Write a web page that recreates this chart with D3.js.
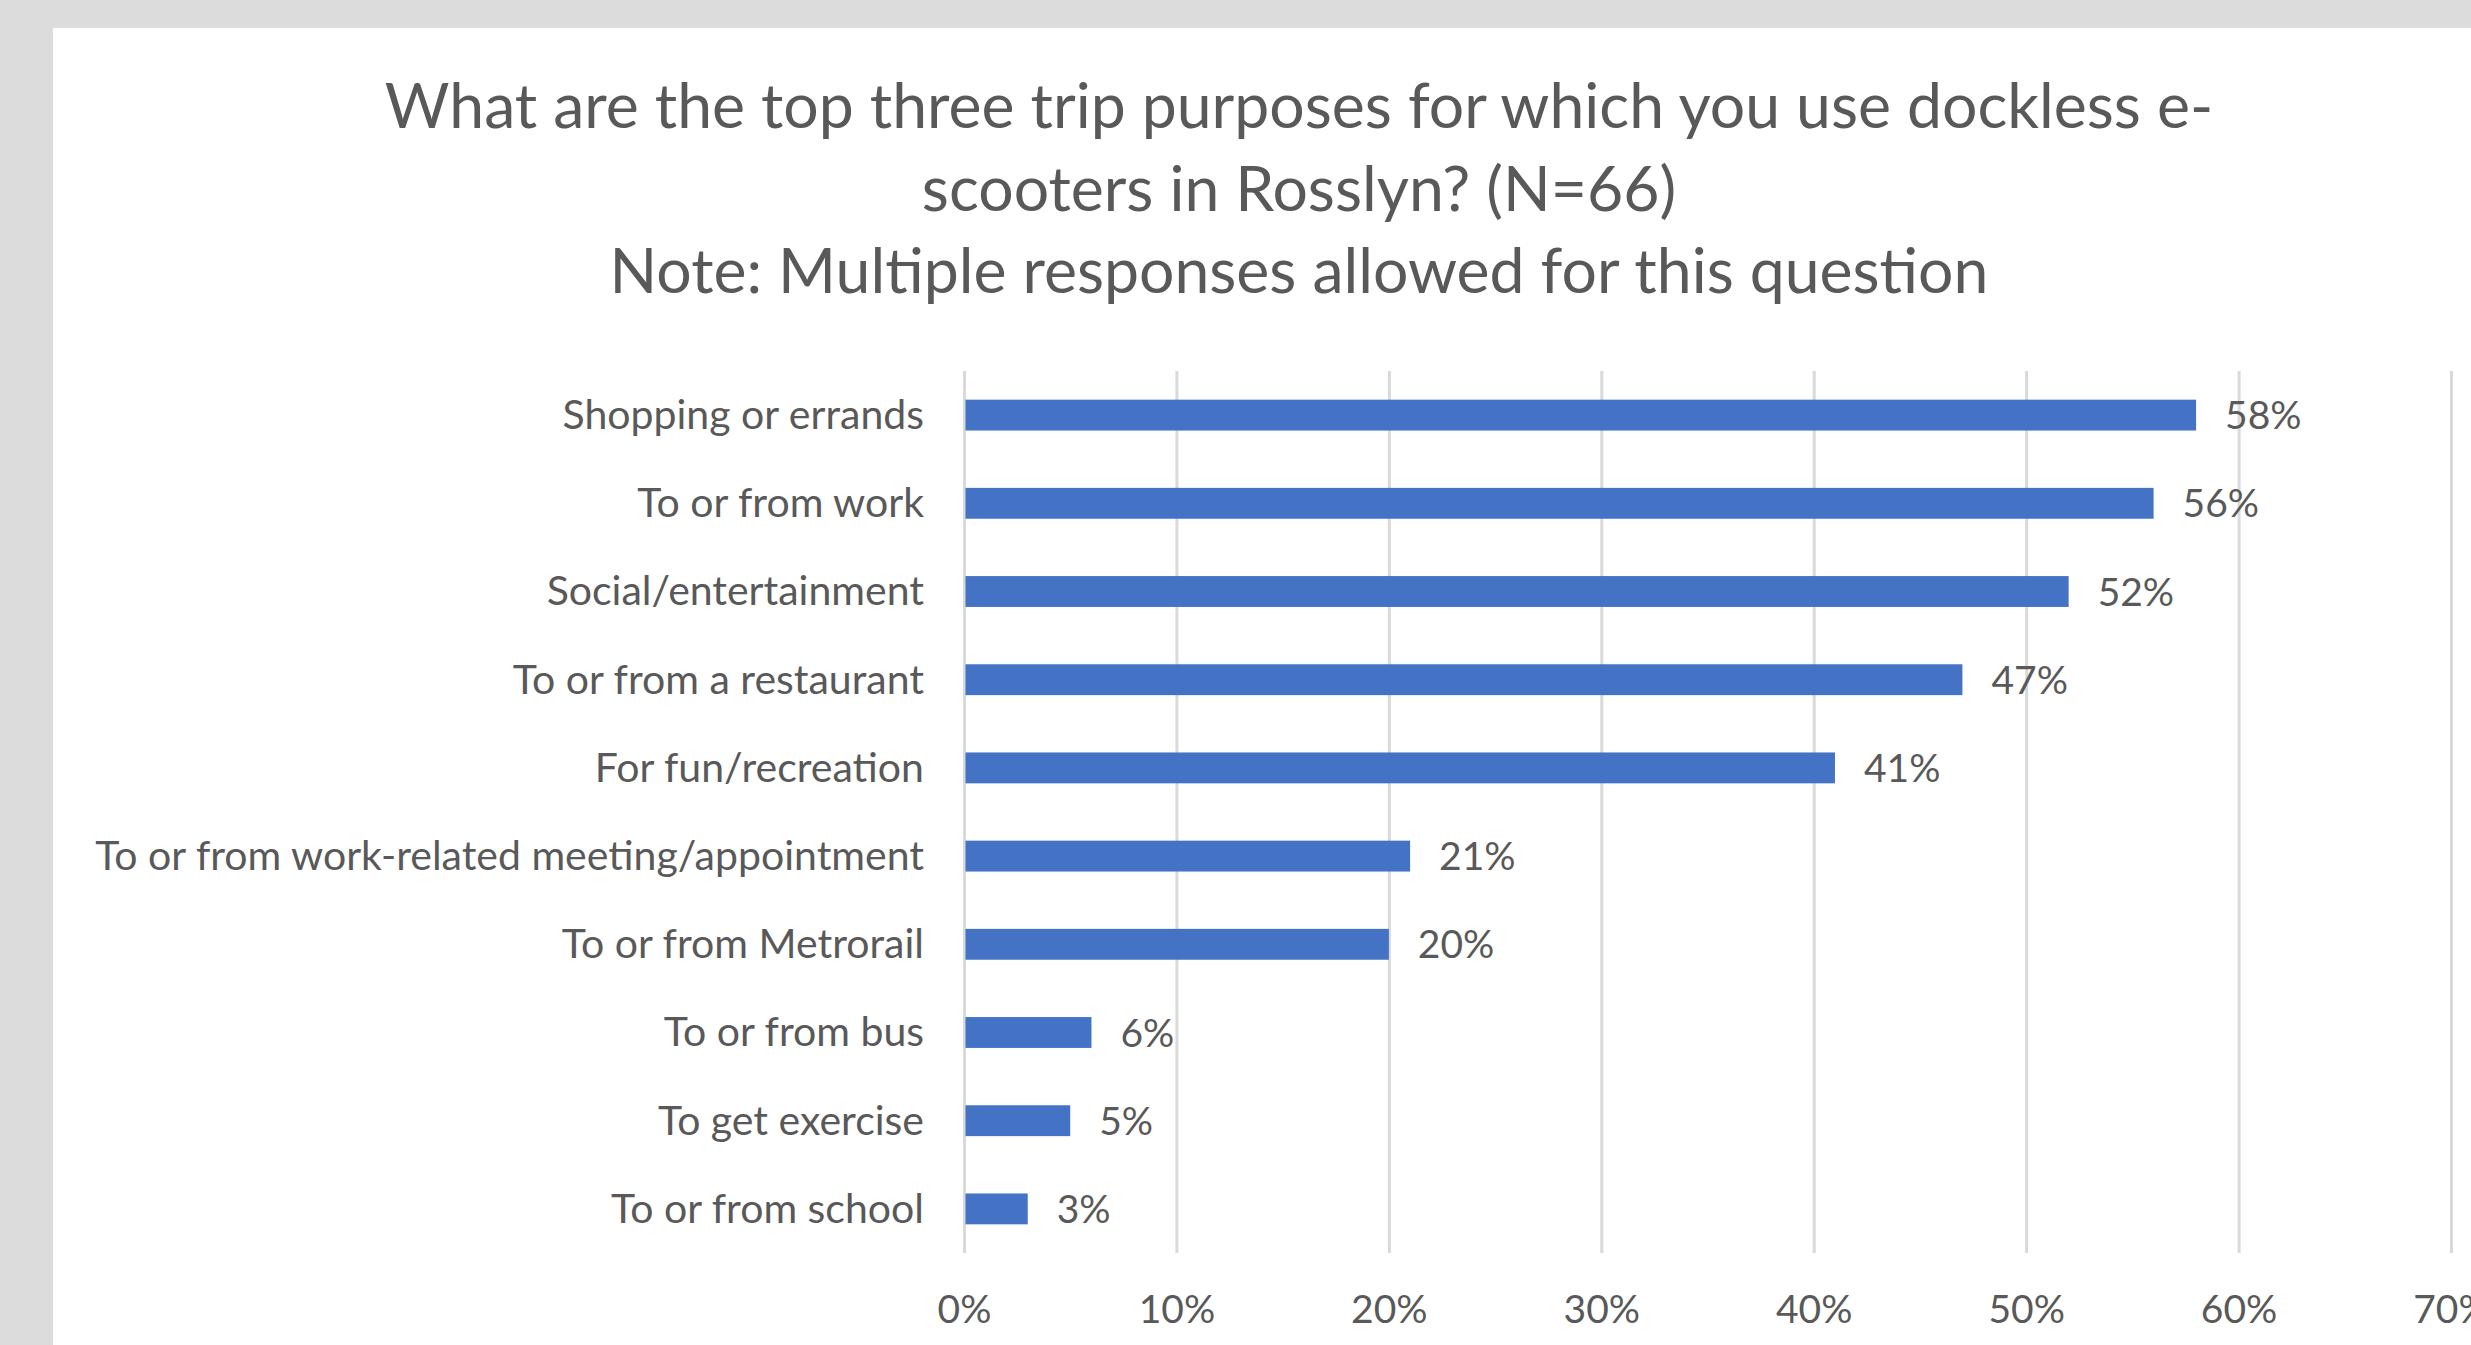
<!DOCTYPE html>
<html>
<head>
<meta charset="utf-8">
<script src="https://cdn.jsdelivr.net/npm/d3@7"></script>
<style>
  html, body { margin: 0; padding: 0; background: #dcdcdc; }
  svg { display: block; }
  text { font-family: Lato, "Open Sans", sans-serif; fill: #595959; }
</style>
</head>
<body>
<script>
// Survey results: share of respondents naming each trip purpose
const categories = [
  "Shopping or errands",
  "To or from work",
  "Social/entertainment",
  "To or from a restaurant",
  "For fun/recreation",
  "To or from work-related meeting/appointment",
  "To or from Metrorail",
  "To or from bus",
  "To get exercise",
  "To or from school"
];
const values = [0.58, 0.56, 0.52, 0.47, 0.41, 0.21, 0.20, 0.06, 0.05, 0.03];
const xTicks = [0, 0.1, 0.2, 0.3, 0.4, 0.5, 0.6, 0.7];
const titleLines = [
  "What are the top three trip purposes for which you use dockless e-",
  "scooters in Rosslyn? (N=66)",
  "Note: Multiple responses allowed for this question"
];

const W = 2471, H = 1345;
const plot = { left: 964, right: 2451, top: 371, bottom: 1253 };
const barColor = "#4472C4";
const gridColor = "#d9d9d9";
const labelSize = 39;
const categorySize = 41;
const titleSize = 62.5;

const svg = d3.select("body").append("svg")
  .attr("width", W).attr("height", H);

// chart area panel
svg.append("rect")
  .attr("x", 53).attr("y", 28)
  .attr("width", W - 53).attr("height", H - 28)
  .attr("fill", "#ffffff");

// title block
const title = svg.append("text")
  .attr("text-anchor", "middle")
  .style("font-size", titleSize + "px");
titleLines.forEach((line, i) => {
  title.append("tspan")
    .attr("x", 1299)
    .attr("y", 128 + i * 82.5)
    .text(line);
});

const x = d3.scaleLinear().domain([0, 0.7]).range([plot.left, plot.right]);
const y = d3.scaleBand().domain(categories)
  .range([plot.top, plot.bottom])
  .paddingInner(0.65).paddingOuter(0.325);

// vertical gridlines + percentage tick labels
const xAxis = svg.append("g")
  .attr("transform", `translate(0,${plot.bottom})`)
  .call(d3.axisBottom(x)
    .tickValues(xTicks)
    .tickFormat(d3.format(".0%"))
    .tickSize(-(plot.bottom - plot.top))
    .tickPadding(42));
xAxis.select(".domain").remove();
xAxis.selectAll(".tick line")
  .attr("stroke", gridColor).attr("stroke-width", 3);
xAxis.selectAll(".tick text")
  .attr("fill", "#595959")
  .style("font-size", labelSize + "px")
  .style("font-family", "Lato, 'Open Sans', sans-serif");

// category labels
const yAxis = svg.append("g")
  .attr("transform", `translate(${plot.left},0)`)
  .call(d3.axisLeft(y).tickSize(0).tickPadding(40));
yAxis.select(".domain").remove();
yAxis.selectAll(".tick text")
  .attr("fill", "#595959")
  .attr("dy", "0.34em")
  .style("font-size", categorySize + "px")
  .style("font-family", "Lato, 'Open Sans', sans-serif");

const rows = categories.map((c, i) => ({ c, v: values[i] }));

// bars
svg.append("g").selectAll("rect")
  .data(rows)
  .join("rect")
  .attr("x", x(0) + 1.5)
  .attr("y", d => y(d.c))
  .attr("width", d => x(d.v) - x(0) - 1.5)
  .attr("height", y.bandwidth())
  .attr("fill", barColor);

// value labels
svg.append("g").selectAll("text")
  .data(rows)
  .join("text")
  .attr("x", d => x(d.v) + 29)
  .attr("y", d => y(d.c) + y.bandwidth() / 2)
  .attr("dy", "0.36em")
  .style("font-size", labelSize + "px")
  .text(d => d3.format(".0%")(d.v));
</script>
</body>
</html>
